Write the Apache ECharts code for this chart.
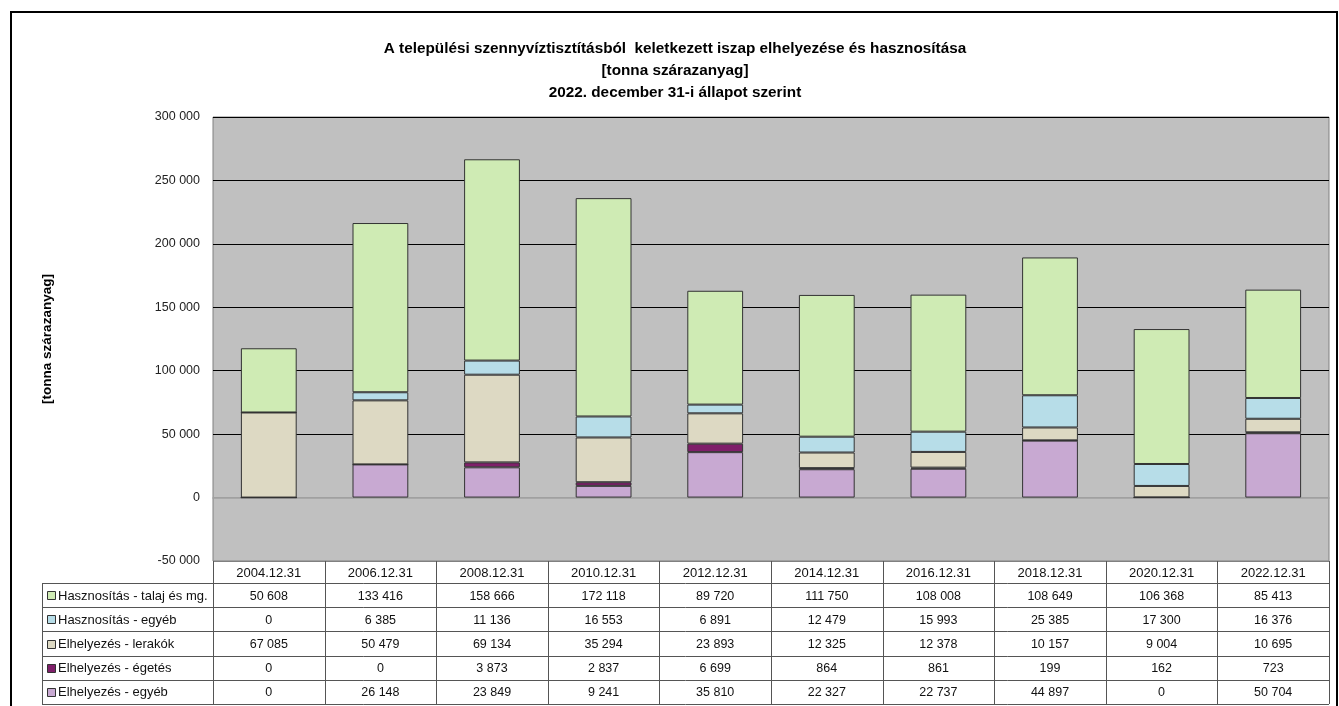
<!DOCTYPE html>
<html>
<head>
<meta charset="utf-8">
<script src="https://cdn.jsdelivr.net/npm/echarts@6/dist/echarts.min.js"></script>
<style>html,body{margin:0;padding:0;background:#fff}#c{width:1339px;height:706px}</style>
</head>
<body>
<div id="c"></div>
<script>
const categories = ['2004.12.31','2006.12.31','2008.12.31','2010.12.31','2012.12.31','2014.12.31','2016.12.31','2018.12.31','2020.12.31','2022.12.31'];
const talaj = [50608,133416,158666,172118,89720,111750,108008,108649,106368,85413];
const haszEgyeb = [0,6385,11136,16553,6891,12479,15993,25385,17300,16376];
const lerakok = [67085,50479,69134,35294,23893,12325,12378,10157,9004,10695];
const egetes = [0,0,3873,2837,6699,864,861,199,162,723];
const elhEgyeb = [0,26148,23849,9241,35810,22327,22737,44897,0,50704];
const yTicks = {min:-50000, max:300000, interval:50000};

const FONT = '"Liberation Sans", Arial, sans-serif';
const fmt = n => String(n).replace(/\B(?=(\d{3})+(?!\d))/g, ' ');

// table order (top to bottom); stack order is the reverse (bottom to top)
const rows = [
  {name:'Hasznosítás - talaj és mg.', data:talaj, color:'#CFEBB4'},
  {name:'Hasznosítás - egyéb', data:haszEgyeb, color:'#B7DDE8'},
  {name:'Elhelyezés - lerakók', data:lerakok, color:'#DDD9C3'},
  {name:'Elhelyezés - égetés', data:egetes, color:'#7F1F6A'},
  {name:'Elhelyezés - egyéb', data:elhEgyeb, color:'#C8A9D2'}
];
const stackOrder = rows.slice().reverse();

const chart = echarts.init(document.getElementById('c'));
const GL = 213, GT = 117, GW = 1116, GH = 444;
chart.setOption({
  animation:false,
  backgroundColor:'#fff',
  title:{
    text:'A települési szennyvíztisztításból  keletkezett iszap elhelyezése és hasznosítása\n[tonna szárazanyag]\n2022. december 31-i állapot szerint',
    left:670, textAlign:'center', top:33,
    textStyle:{fontFamily:FONT, fontSize:15.3, fontWeight:'bold', color:'#000', lineHeight:22}
  },
  grid:{left:GL, top:GT, width:GW, height:GH, show:true, backgroundColor:'#C0C0C0', borderColor:'#808080', borderWidth:1},
  xAxis:{
    type:'category', data:categories,
    axisLine:{show:true, onZero:true, lineStyle:{color:'#A0A0A0', width:1.5}},
    axisTick:{show:false}, axisLabel:{show:false}
  },
  yAxis:{
    type:'value', min:yTicks.min, max:yTicks.max, interval:yTicks.interval,
    axisLine:{show:false}, axisTick:{show:false},
    axisLabel:{fontFamily:FONT, fontSize:12.5, color:'#222', margin:13, formatter:v=>fmt(v)},
    splitLine:{lineStyle:{color:['#808080','#A0A0A0','#000','#000','#000','#000','#000','#000'], width:1}}
  },
  series: stackOrder.map(r=>({
    name:r.name, type:'bar', stack:'s', data:r.data, barWidth:'50%',
    itemStyle:{color:r.color, borderColor:'#333', borderWidth:1}
  }))
});

// build the data table from axis scale positions
const c0 = chart.convertToPixel({xAxisIndex:0}, 0);
const c1 = chart.convertToPixel({xAxisIndex:0}, 1);
const band = c1 - c0;
const tableTop = GT + GH;  // 561
const headH = 22, rowH = 24.2;
const legendLeft = 42;
const right = GL + GW;
const g = [];
const lineStyle = {stroke:'#555', lineWidth:1};
for (let i=0;i<=rows.length;i++){
  const y = Math.round(tableTop + headH + i*rowH) + 0.5;
  g.push({type:'line', shape:{x1:legendLeft, y1:y, x2:right, y2:y}, style:lineStyle, silent:true});
}
const bottom = tableTop + headH + rows.length*rowH;
g.push({type:'line', shape:{x1:legendLeft+0.5, y1:tableTop+headH, x2:legendLeft+0.5, y2:bottom}, style:lineStyle});
for (let j=0;j<=categories.length;j++){
  const x = Math.round(c0 - band/2 + j*band) + 0.5;
  g.push({type:'line', shape:{x1:x, y1:tableTop, x2:x, y2:bottom}, style:lineStyle});
}
categories.forEach((cat,j)=>{
  const x = chart.convertToPixel({xAxisIndex:0}, j);
  g.push({type:'text', x:x, y:tableTop+headH/2+1, style:{text:cat, fontFamily:FONT, fontSize:13, fill:'#111', align:'center', verticalAlign:'middle'}});
});
rows.forEach((r,i)=>{
  const yc = tableTop + headH + i*rowH + rowH/2 + 1;
  g.push({type:'rect', shape:{x:47.5, y:Math.round(yc)-4.5, width:8, height:8}, style:{fill:r.color, stroke:'#333', lineWidth:1}});
  g.push({type:'text', x:58, y:yc, style:{text:r.name, fontFamily:FONT, fontSize:13, fill:'#111', align:'left', verticalAlign:'middle'}});
  r.data.forEach((v,j)=>{
    const x = chart.convertToPixel({xAxisIndex:0}, j);
    g.push({type:'text', x:x, y:yc, style:{text:fmt(v), fontFamily:FONT, fontSize:12.5, fill:'#111', align:'center', verticalAlign:'middle'}});
  });
});
g.push({type:'text', x:47, y:GT + GH/2, rotation:Math.PI/2, style:{text:'[tonna szárazanyag]', fontFamily:FONT, fontSize:13.5, fontWeight:'bold', fill:'#000', align:'center', verticalAlign:'middle'}});
g.push({type:'rect', shape:{x:11, y:12, width:1326, height:720}, style:{fill:null, stroke:'#000', lineWidth:2}, z:100});
chart.setOption({graphic:g});
</script>
</body>
</html>
